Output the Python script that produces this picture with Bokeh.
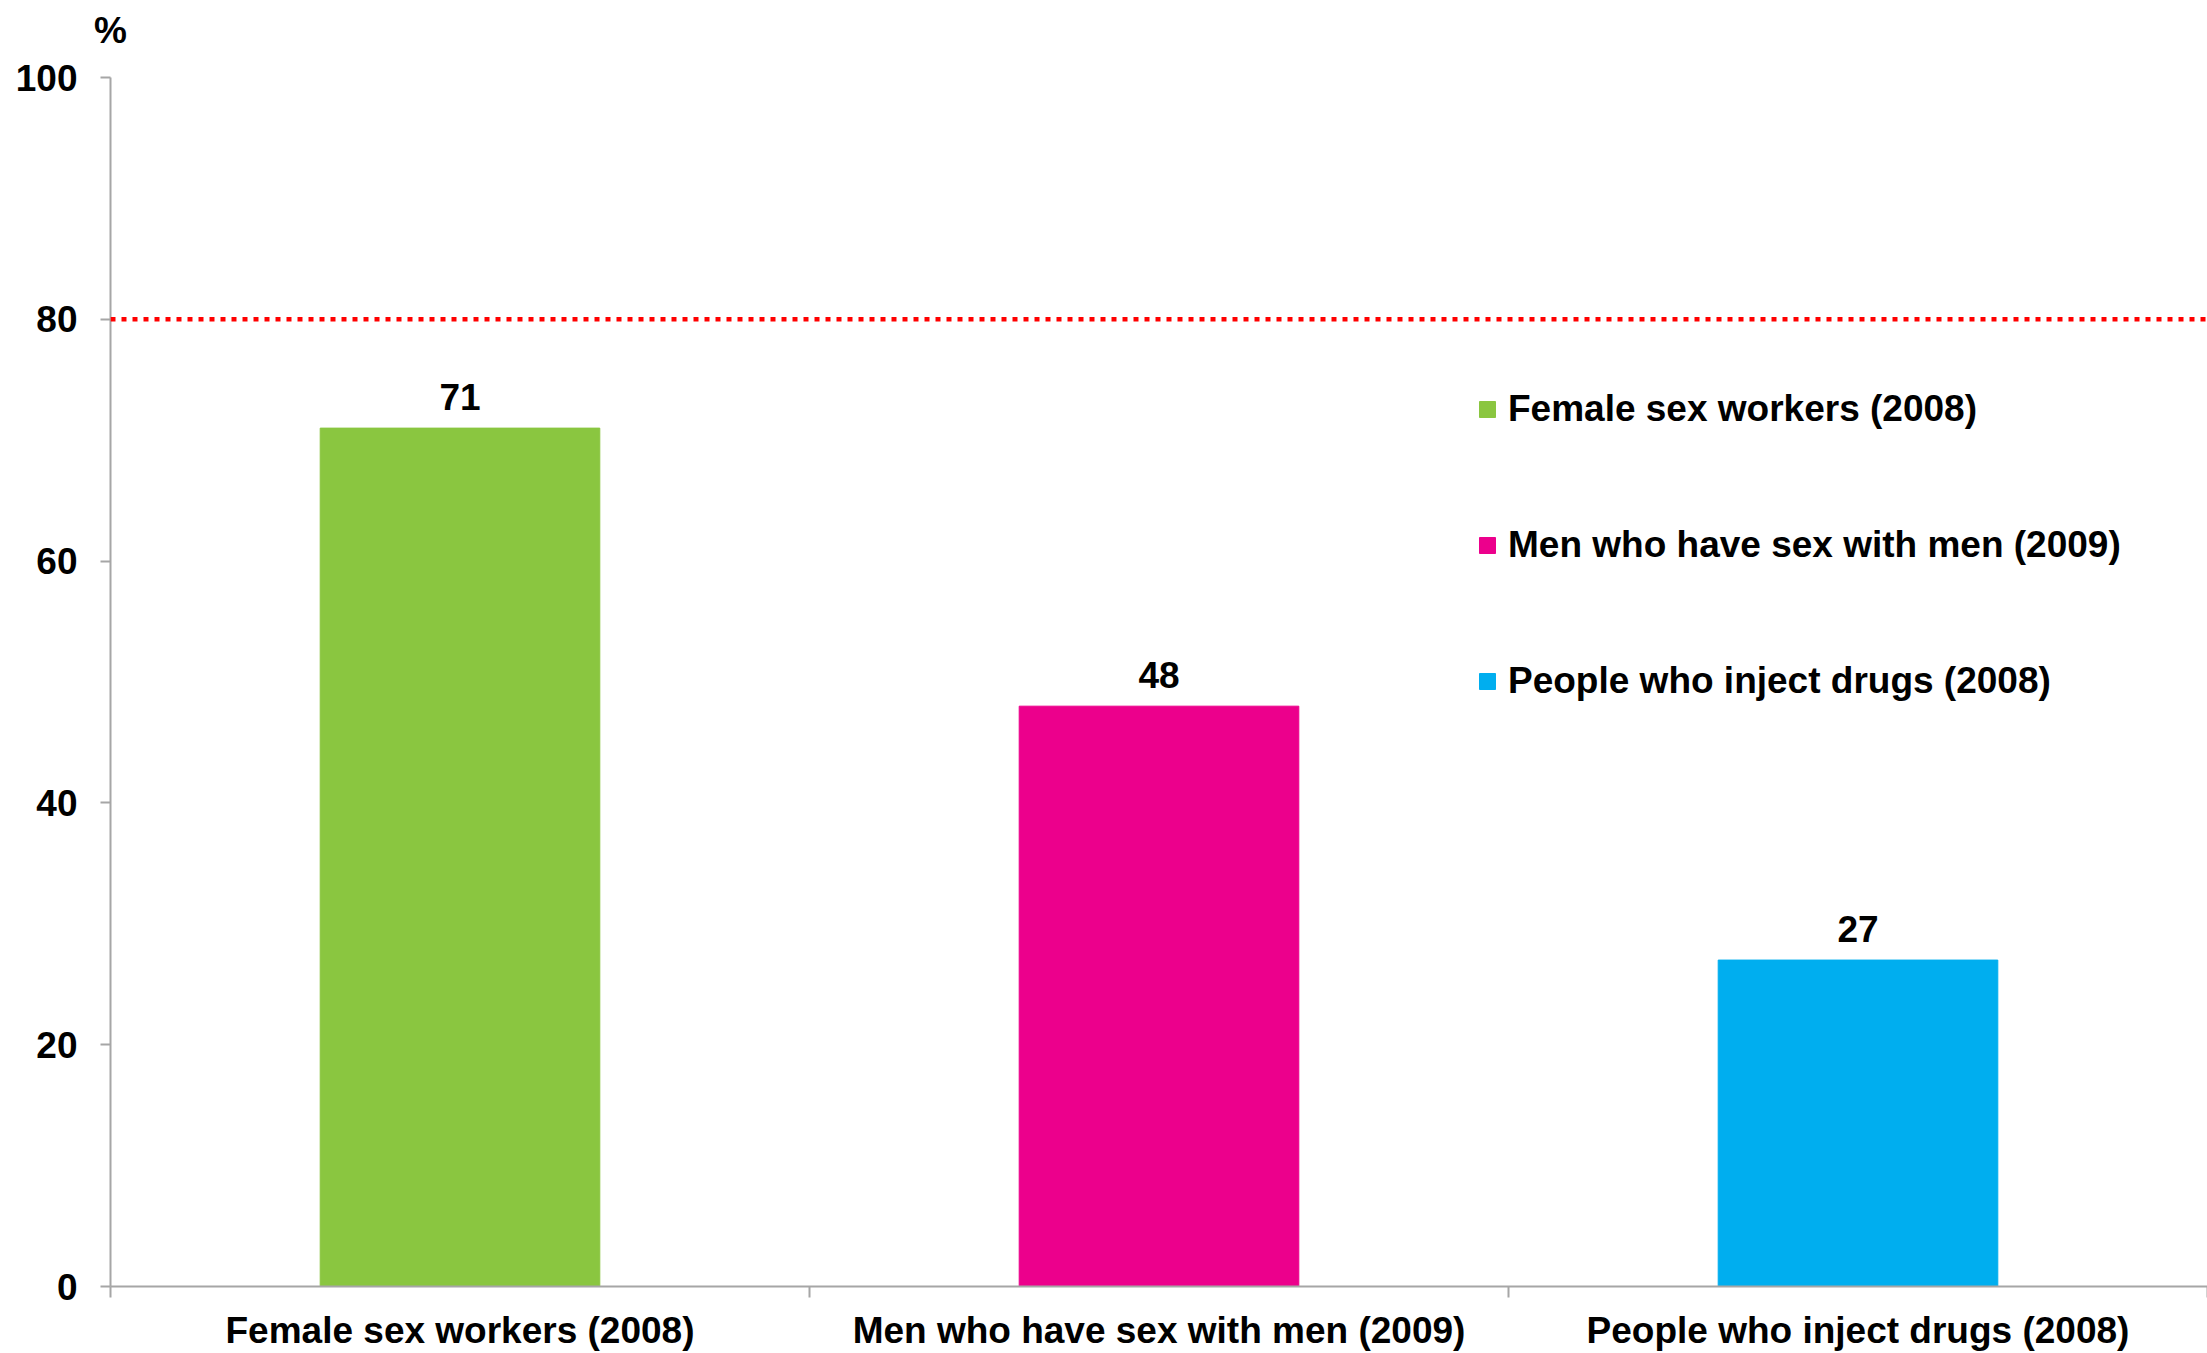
from bokeh.plotting import figure
from bokeh.models import (ColumnDataSource, Range1d, FixedTicker, Span,
                          Legend, LegendItem, LinearAxis)
from bokeh.core.properties import value
from bokeh.embed import file_html
from bokeh.resources import INLINE

categories = ["Female sex workers (2008)", "Men who have sex with men (2009)",
              "People who inject drugs (2008)"]
values = [71, 48, 27]
colors = ["#8AC640", "#EC008C", "#00AEEF"]
y_ticks = [0, 20, 40, 60, 80, 100]
target = 80
unit_label = "%"

FONT = "Liberation Sans"
FS = "37px"
AXIS_GREY = "#A6A6A6"

centers = [i + 0.5 for i in range(len(categories))]
bounds = [float(i) for i in range(len(categories) + 1)]

src = ColumnDataSource(dict(x=centers, top=values, color=colors, cat=categories,
                            lab=[str(v) for v in values]))

p = figure(width=2207, height=1353, output_backend="svg", toolbar_location=None,
           x_range=Range1d(0, len(categories)), y_range=Range1d(0, 100),
           x_axis_type=None, y_axis_type=None,
           min_border_left=110, min_border_top=77, min_border_right=0, min_border_bottom=66)
p.outline_line_color = None
p.xgrid.visible = False
p.ygrid.visible = False
p.background_fill_color = "white"
p.border_fill_color = "white"

bars = p.vbar(x="x", top="top", width=0.4, color="color", source=src)

p.text(x="x", y="top", text="lab", source=src, text_align="center",
       text_baseline="alphabetic", y_offset=-31, text_font=value(FONT),
       text_font_size=value(FS), text_font_style="bold", text_color="black")

# y axis
yax = LinearAxis(ticker=FixedTicker(ticks=y_ticks))
yax.axis_line_color = AXIS_GREY
yax.axis_line_width = 2
yax.major_tick_line_color = AXIS_GREY
yax.major_tick_line_width = 2
yax.major_tick_out = 10
yax.major_tick_in = 0
yax.minor_tick_line_color = None
yax.major_label_standoff = 23
yax.major_label_text_font = FONT
yax.major_label_text_font_size = FS
yax.major_label_text_font_style = "bold"
yax.major_label_text_color = "black"
p.add_layout(yax, "left")

# unit label "%" above the y axis (an axis above with a single labelled tick)
uax = LinearAxis(ticker=FixedTicker(ticks=[0]))
uax.major_label_overrides = {0: unit_label}
uax.axis_line_color = None
uax.major_tick_line_color = None
uax.minor_tick_line_color = None
uax.major_tick_out = 0
uax.major_tick_in = 0
uax.major_label_standoff = 27
uax.major_label_text_align = "right"
uax.major_label_text_font = FONT
uax.major_label_text_font_size = FS
uax.major_label_text_font_style = "bold"
uax.major_label_text_color = "black"
p.add_layout(uax, "above")

# x axis
xax = LinearAxis(ticker=FixedTicker(ticks=centers, minor_ticks=bounds))
xax.major_label_overrides = {c: cat for c, cat in zip(centers, categories)}
xax.axis_line_color = AXIS_GREY
xax.axis_line_width = 2
xax.major_tick_line_color = None
xax.major_tick_out = 11
xax.major_tick_in = 0
xax.minor_tick_line_color = AXIS_GREY
xax.minor_tick_line_width = 2
xax.minor_tick_out = 11
xax.minor_tick_in = 0
xax.major_label_standoff = 12
xax.major_label_text_font = FONT
xax.major_label_text_font_size = FS
xax.major_label_text_font_style = "bold"
xax.major_label_text_color = "black"
p.add_layout(xax, "below")

p.add_layout(Span(location=target, dimension="width", line_color="#FF0000",
                  line_dash="5 6", line_width=4.5))

legend = Legend(items=[LegendItem(label=c, renderers=[bars], index=i)
                       for i, c in enumerate(categories)],
                location=(1367, 584))
legend.glyph_width = 20
legend.glyph_height = 20
legend.label_standoff = 11
legend.spacing = 94
legend.padding = 0
legend.margin = 0
legend.border_line_color = None
legend.background_fill_alpha = 0
legend.label_text_font = FONT
legend.label_text_font_size = FS
legend.label_text_font_style = "bold"
legend.label_text_color = "black"
p.add_layout(legend, "center")

open("out.html", "w").write(file_html(p, INLINE))
